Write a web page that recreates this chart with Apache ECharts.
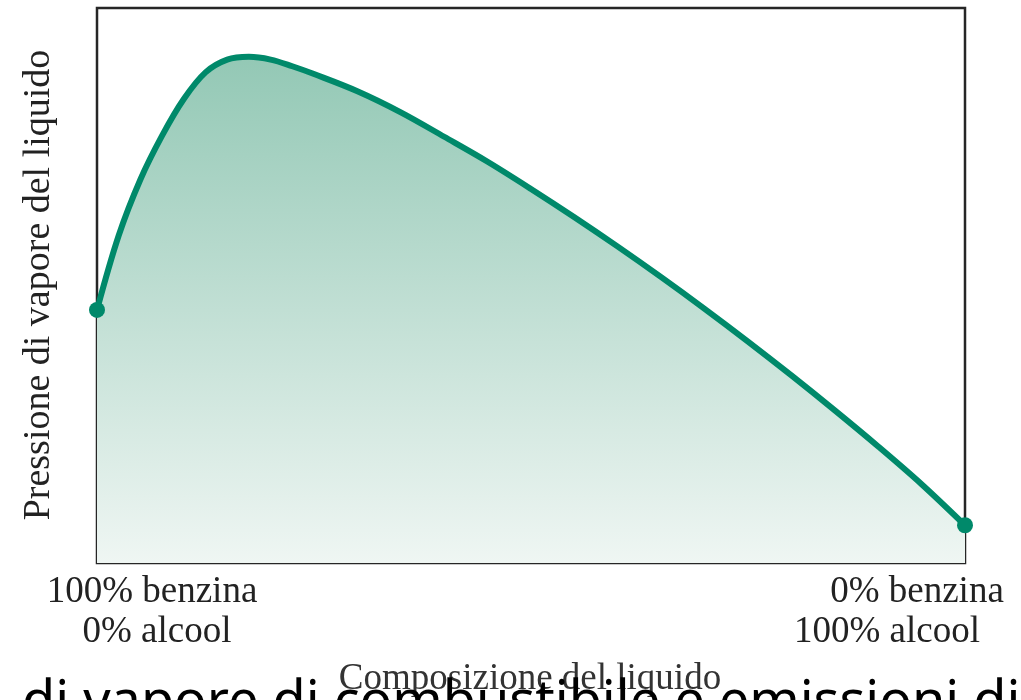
<!DOCTYPE html>
<html>
<head>
<meta charset="utf-8">
<script src="https://cdn.jsdelivr.net/npm/echarts@6/dist/echarts.min.js"></script>
<style>
html,body{margin:0;padding:0;background:#fff;}
#chart{width:1021px;height:700px;}
</style>
</head>
<body>
<div id="chart"></div>
<script>
// Composition (0 = 100% benzina, 100 = 100% alcool), relative units
const composition = [0, 2.5, 5, 7.5, 10, 12.5, 15, 17.5, 20, 22.5, 25, 30, 35, 40, 45, 50, 55, 60, 65, 70, 75, 80, 85, 90, 95, 100];
const vaporPressure = [45.6, 59.0, 69.1, 77.0, 83.6, 88.4, 90.7, 91.2, 90.7, 89.5, 88.1, 85.0, 81.2, 76.8, 72.3, 67.4, 62.3, 57.0, 51.5, 45.8, 39.9, 33.8, 27.5, 21.0, 14.2, 6.8];
const leftTickLabels = ['100% benzina', '0% alcool'];
const rightTickLabels = ['0% benzina', '100% alcool'];
const xAxisTitle = 'Composizione del liquido';
const yAxisTitle = 'Pressione di vapore del liquido';
const captionText = 'di vapore di combustibile e emissioni di';

const chart = echarts.init(document.getElementById('chart'), null, {renderer: 'canvas'});
const last = composition.length - 1;
const seriesData = composition.map((x, i) => {
  const item = {value: [x, vaporPressure[i]]};
  if (i === 0 || i === last) { item.symbol = 'circle'; item.symbolSize = 16; }
  else { item.symbol = 'none'; }
  return item;
});

const serif = '"Liberation Serif", "DejaVu Serif", serif';
const textColor = '#222';

chart.setOption({
  animation: false,
  grid: {left: 97, right: 56, top: 8, bottom: 137, show: true, borderColor: '#262626', borderWidth: 2.5, backgroundColor: 'transparent'},
  xAxis: {type: 'value', min: 0, max: 100, axisLine: {show: false}, axisTick: {show: false}, axisLabel: {show: false}, splitLine: {show: false}},
  yAxis: {type: 'value', min: 0, max: 100, axisLine: {show: false}, axisTick: {show: false}, axisLabel: {show: false}, splitLine: {show: false}},
  series: [{
    type: 'line',
    data: seriesData,
    smooth: 0.35,
    clip: false,
    showSymbol: true,
    itemStyle: {color: '#00896a'},
    lineStyle: {color: '#00896a', width: 6},
    areaStyle: {
      opacity: 1,
      color: new echarts.graphic.LinearGradient(0, 0, 0, 1, [
        {offset: 0, color: '#93c8b5'},
        {offset: 1, color: '#eff6f3'}
      ])
    },
    z: 3
  }],
  graphic: [
    {type: 'text', x: 152, y: 592, style: {text: leftTickLabels[0], font: '37px ' + serif, fill: textColor, align: 'center', verticalAlign: 'middle'}},
    {type: 'text', x: 157, y: 632, style: {text: leftTickLabels[1], font: '37px ' + serif, fill: textColor, align: 'center', verticalAlign: 'middle'}},
    {type: 'text', x: 917, y: 592, style: {text: rightTickLabels[0], font: '37px ' + serif, fill: textColor, align: 'center', verticalAlign: 'middle'}},
    {type: 'text', x: 887, y: 632, style: {text: rightTickLabels[1], font: '37px ' + serif, fill: textColor, align: 'center', verticalAlign: 'middle'}},
    {type: 'text', x: 530, y: 679, style: {text: xAxisTitle, font: '37px ' + serif, fill: '#333', align: 'center', verticalAlign: 'middle'}},
    {type: 'text', x: 39, y: 285, rotation: Math.PI / 2, style: {text: yAxisTitle, font: '38px ' + serif, fill: textColor, align: 'center', verticalAlign: 'middle'}},
    {type: 'text', x: 22, y: 704, z: 100, style: {text: captionText, font: '54px "Noto Sans", sans-serif', fill: '#000', align: 'left', verticalAlign: 'middle'}}
  ]
});
</script>
</body>
</html>
